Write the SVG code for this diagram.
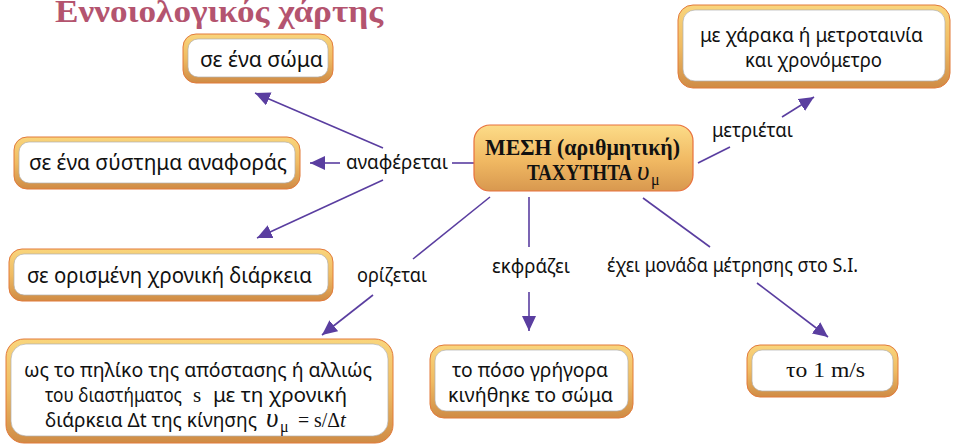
<svg xmlns="http://www.w3.org/2000/svg" width="955" height="447" viewBox="0 0 955 447">
<defs>
<linearGradient id="gBorder" x1="0" y1="0" x2="0" y2="1">
<stop offset="0" stop-color="#f9d57c"/>
<stop offset="0.5" stop-color="#efbb63"/>
<stop offset="1" stop-color="#cf8b45"/>
</linearGradient>
<linearGradient id="gCenter" x1="0" y1="0" x2="0" y2="1">
<stop offset="0" stop-color="#fcdc88"/>
<stop offset="0.55" stop-color="#f0b862"/>
<stop offset="1" stop-color="#d8984f"/>
</linearGradient>
<marker id="arr" markerUnits="userSpaceOnUse" markerWidth="16" markerHeight="14" refX="15" refY="7" orient="auto">
<path d="M0,0 L15,7 L0,14 z" fill="#5a3ea0"/>
</marker>
</defs>
<style>
.outer{fill:url(#gBorder);stroke:#e27a3b;stroke-width:1}
.inner{fill:#ffffff;stroke:#b0b0b0;stroke-width:0.7}
.center{fill:url(#gCenter);stroke:#e8703c;stroke-width:1.2}
.t{font-family:"Noto Sans","DejaVu Sans",sans-serif;font-size:21px;fill:#111}
.m{font-size:20px}
.lbl{font-family:"Noto Sans","DejaVu Sans",sans-serif;font-size:19px;fill:#111}
.ser{font-family:"Liberation Serif","DejaVu Serif",serif;fill:#111}
.c{stroke:#5a3ea0;stroke-width:1.6;fill:none}
.a{marker-end:url(#arr)}
</style>

<text x="55" y="22" textLength="328" lengthAdjust="spacingAndGlyphs" style="font-family:'Liberation Serif','DejaVu Serif',serif;font-weight:bold;font-size:31px;fill:#b4546f">Εννοιολογικός χάρτης</text>

<g id="connectors">
<line class="c" x1="452" y1="163" x2="474" y2="163"/>
<line class="c a" x1="340" y1="163" x2="310" y2="163"/>
<line class="c a" x1="383" y1="148" x2="255" y2="93"/>
<line class="c a" x1="383" y1="180" x2="257" y2="238"/>
<line class="c" x1="490" y1="197" x2="413" y2="259"/>
<line class="c a" x1="373" y1="295" x2="322" y2="335"/>
<line class="c" x1="529" y1="197" x2="529" y2="247"/>
<line class="c a" x1="529" y1="292" x2="529" y2="331"/>
<line class="c" x1="643" y1="198" x2="710" y2="247"/>
<line class="c a" x1="757" y1="283" x2="828" y2="337"/>
<line class="c" x1="698" y1="163" x2="730" y2="147"/>
<line class="c a" x1="782" y1="117" x2="814" y2="97"/>
</g>

<g id="labels">
<text class="lbl" x="346" y="169" textLength="102" lengthAdjust="spacingAndGlyphs">αναφέρεται</text>
<text class="lbl" x="357" y="282" textLength="70" lengthAdjust="spacingAndGlyphs">ορίζεται</text>
<text class="lbl" x="492" y="273" textLength="78" lengthAdjust="spacingAndGlyphs">εκφράζει</text>
<text class="lbl" x="607" y="272" textLength="251" lengthAdjust="spacingAndGlyphs">έχει μονάδα μέτρησης στο S.I.</text>
<text class="lbl" x="712" y="137" textLength="81" lengthAdjust="spacingAndGlyphs">μετριέται</text>
</g>

<g id="node-center">
<rect class="center" x="474" y="125" width="219" height="66" rx="16"/>
<text class="ser" x="485" y="155" textLength="195" lengthAdjust="spacingAndGlyphs" style="font-weight:bold;font-size:23px">ΜΕΣΗ (αριθμητική)</text>
<text class="ser" x="527" y="180" textLength="105" lengthAdjust="spacingAndGlyphs" style="font-weight:bold;font-size:23px">ΤΑΧΥΤΗΤΑ</text>
<text class="ser" x="637" y="180" style="font-style:italic;font-size:27px">υ</text>
<text class="ser" x="651" y="185" style="font-size:16px">μ</text>
</g>

<g id="node-soma">
<rect class="outer" x="183" y="34" width="150" height="49" rx="13"/>
<rect class="inner" x="188" y="39" width="140" height="38" rx="10"/>
<text class="t" x="200" y="67" textLength="123" lengthAdjust="spacingAndGlyphs">σε ένα σώμα</text>
</g>

<g id="node-systima">
<rect class="outer" x="14" y="137" width="286" height="52" rx="13"/>
<rect class="inner" x="19" y="142" width="276" height="41" rx="10"/>
<text class="t" x="29" y="170" textLength="258" lengthAdjust="spacingAndGlyphs">σε ένα σύστημα αναφοράς</text>
</g>

<g id="node-diarkeia">
<rect class="outer" x="9" y="249" width="324" height="52" rx="13"/>
<rect class="inner" x="14" y="254" width="314" height="41" rx="10"/>
<text class="t" x="27" y="283" textLength="285" lengthAdjust="spacingAndGlyphs">σε ορισμένη χρονική διάρκεια</text>
</g>

<g id="node-piliko">
<rect class="outer" x="6" y="339" width="387" height="104" rx="18"/>
<rect class="inner" x="11" y="344" width="377" height="92" rx="15"/>
<text class="t m" x="24" y="377" textLength="348" lengthAdjust="spacingAndGlyphs">ως το πηλίκο της απόστασης ή αλλιώς</text>
<text class="t m" x="45" y="402" textLength="137" lengthAdjust="spacingAndGlyphs">του διαστήματος</text>
<text class="ser" x="193" y="402" font-size="21">s</text>
<text class="t m" x="213" y="402" textLength="134" lengthAdjust="spacingAndGlyphs">με τη χρονική</text>
<text class="t m" x="45" y="427" textLength="212" lengthAdjust="spacingAndGlyphs">διάρκεια Δt της κίνησης</text>
<text class="ser" x="266" y="427" font-size="27" font-style="italic">υ</text>
<text class="ser" x="280" y="432" font-size="16">μ</text>
<text class="ser" x="298" y="427" font-size="21" textLength="42" lengthAdjust="spacingAndGlyphs">= s/Δ</text>
<text class="ser" x="340" y="427" font-size="21" font-style="italic">t</text>
</g>

<g id="node-poso">
<rect class="outer" x="430" y="345" width="203" height="73" rx="14"/>
<rect class="inner" x="435" y="350" width="193" height="61" rx="11"/>
<text class="t m" x="452" y="377" textLength="156" lengthAdjust="spacingAndGlyphs">το πόσο γρήγορα</text>
<text class="t m" x="448" y="402" textLength="165" lengthAdjust="spacingAndGlyphs">κινήθηκε το σώμα</text>
</g>

<g id="node-monada">
<rect class="outer" x="747" y="345" width="151" height="52" rx="13"/>
<rect class="inner" x="752" y="350" width="141" height="41" rx="10"/>
<text class="ser" x="786" y="377" textLength="79" lengthAdjust="spacingAndGlyphs" font-size="22">το 1 m/s</text>
</g>

<g id="node-xaraka">
<rect class="outer" x="678" y="5" width="272" height="83" rx="15"/>
<rect class="inner" x="683" y="10" width="262" height="71" rx="12"/>
<text class="t m" x="700" y="42" textLength="223" lengthAdjust="spacingAndGlyphs">με χάρακα ή μετροταινία</text>
<text class="t m" x="745" y="67" textLength="137" lengthAdjust="spacingAndGlyphs">και χρονόμετρο</text>
</g>
</svg>
